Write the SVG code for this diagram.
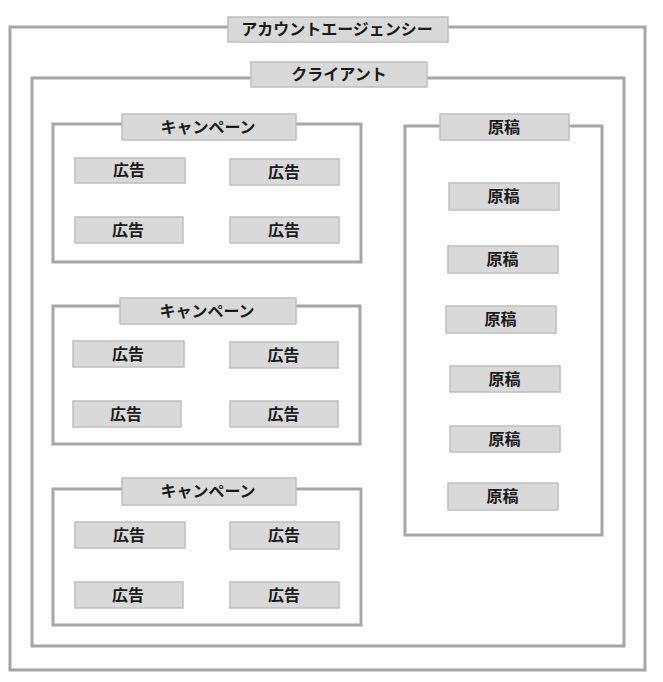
<svg xmlns="http://www.w3.org/2000/svg" width="663" height="682" viewBox="0 0 663 682">
<style>
.frame{fill:none;stroke:#a6a6a6;stroke-width:3}
.box{fill:#d9d9d9;stroke:#bfbfbf;stroke-width:1.5}
.t{font-family:"Noto Sans CJK JP","Noto Sans",sans-serif;font-weight:bold;font-size:16px;fill:#1a1a1a;text-anchor:middle;dominant-baseline:central}
</style>
<rect width="663" height="682" fill="#ffffff"/>
<g id="agency">
<rect class="frame" x="10" y="27" width="635" height="643"/>
<rect class="box" x="228" y="17" width="220" height="25"/>
<text class="t" x="337" y="28">アカウントエージェンシー</text>
</g>
<g id="client">
<rect class="frame" x="32" y="78" width="592" height="568"/>
<rect class="box" x="251" y="62" width="176" height="25"/>
<text class="t" x="339" y="73">クライアント</text>
</g>
<g id="campaign1">
<rect class="frame" x="53" y="124" width="308" height="138"/>
<rect class="box" x="122" y="114" width="174" height="26"/>
<text class="t" x="208" y="125.5">キャンペーン</text>
</g>
<g id="ad1-1"><rect class="box" x="75" y="158" width="110" height="25"/><text class="t" x="129" y="169">広告</text></g>
<g id="ad1-2"><rect class="box" x="230" y="159" width="109" height="26"/><text class="t" x="284" y="170.5">広告</text></g>
<g id="ad1-3"><rect class="box" x="75" y="217" width="108" height="26"/><text class="t" x="128" y="228.5">広告</text></g>
<g id="ad1-4"><rect class="box" x="230" y="217" width="109" height="26"/><text class="t" x="284" y="228.5">広告</text></g>
<g id="campaign2">
<rect class="frame" x="53" y="306" width="307" height="138"/>
<rect class="box" x="120" y="298" width="176" height="26"/>
<text class="t" x="207" y="309.5">キャンペーン</text>
</g>
<g id="ad2-1"><rect class="box" x="73" y="341" width="111" height="26"/><text class="t" x="128" y="352.5">広告</text></g>
<g id="ad2-2"><rect class="box" x="230" y="342" width="108" height="26"/><text class="t" x="283.5" y="353.5">広告</text></g>
<g id="ad2-3"><rect class="box" x="73" y="401" width="108" height="26"/><text class="t" x="126" y="412.5">広告</text></g>
<g id="ad2-4"><rect class="box" x="230" y="401" width="108" height="26"/><text class="t" x="283.5" y="412.5">広告</text></g>
<g id="campaign3">
<rect class="frame" x="53" y="489" width="308" height="136"/>
<rect class="box" x="122" y="478" width="174" height="27"/>
<text class="t" x="208" y="490">キャンペーン</text>
</g>
<g id="ad3-1"><rect class="box" x="75" y="522" width="110" height="26"/><text class="t" x="129" y="533.5">広告</text></g>
<g id="ad3-2"><rect class="box" x="230" y="522" width="109" height="27"/><text class="t" x="284" y="534">広告</text></g>
<g id="ad3-3"><rect class="box" x="75" y="582" width="108" height="26"/><text class="t" x="128" y="593.5">広告</text></g>
<g id="ad3-4"><rect class="box" x="230" y="582" width="109" height="26"/><text class="t" x="284" y="593.5">広告</text></g>
<g id="creatives">
<rect class="frame" x="405" y="126" width="197" height="409"/>
<rect class="box" x="440" y="114" width="129" height="26"/>
<text class="t" x="504" y="125.5">原稿</text>
</g>
<g id="cr-1"><rect class="box" x="449" y="183" width="110" height="27"/><text class="t" x="503.5" y="195">原稿</text></g>
<g id="cr-2"><rect class="box" x="448" y="246" width="110" height="27"/><text class="t" x="502.5" y="258">原稿</text></g>
<g id="cr-3"><rect class="box" x="446" y="306" width="110" height="27"/><text class="t" x="500.5" y="318">原稿</text></g>
<g id="cr-4"><rect class="box" x="450" y="366" width="110" height="26"/><text class="t" x="504.5" y="377.5">原稿</text></g>
<g id="cr-5"><rect class="box" x="450" y="426" width="110" height="26"/><text class="t" x="504.5" y="437.5">原稿</text></g>
<g id="cr-6"><rect class="box" x="448" y="483" width="110" height="27"/><text class="t" x="502.5" y="495">原稿</text></g>
<g id="connectors"/>
</svg>
